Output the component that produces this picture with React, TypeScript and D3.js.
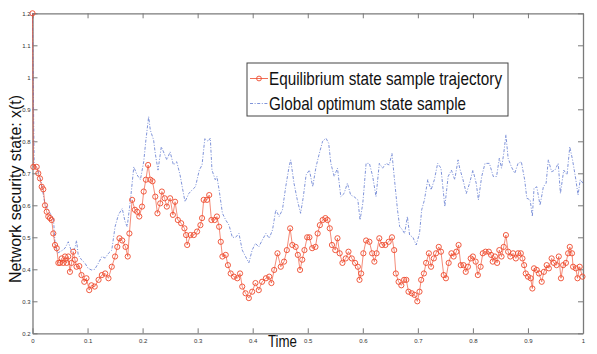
import React, { useRef, useEffect } from 'react';
import * as d3 from 'd3';

// [time, x(t)]
const equilibrium: [number, number][] = [
  [0, 1.2], [0.0015, 0.72], [0.0076, 0.72], [0.0105, 0.70], [0.0136, 0.684], [0.0167, 0.658], [0.0196, 0.65],
  [0.0227, 0.60], [0.0258, 0.58], [0.0287, 0.565], [0.0318, 0.56], [0.0349, 0.554], [0.0378, 0.512], [0.0409, 0.476],
  [0.044, 0.466], [0.047, 0.42], [0.05, 0.42], [0.053, 0.434], [0.056, 0.42], [0.059, 0.44], [0.062, 0.42],
  [0.065, 0.44], [0.068, 0.392], [0.071, 0.42], [0.074, 0.455], [0.077, 0.43], [0.08, 0.408], [0.085, 0.41],
  [0.089, 0.382], [0.094, 0.361], [0.098, 0.372], [0.103, 0.335], [0.107, 0.35], [0.113, 0.346], [0.12, 0.367],
  [0.126, 0.382], [0.132, 0.387], [0.138, 0.372], [0.144, 0.408], [0.15, 0.44], [0.154, 0.47], [0.158, 0.497],
  [0.163, 0.49], [0.169, 0.47], [0.173, 0.44], [0.176, 0.512], [0.181, 0.617], [0.186, 0.586], [0.19, 0.58],
  [0.194, 0.565], [0.199, 0.596], [0.202, 0.643], [0.206, 0.68], [0.21, 0.726], [0.214, 0.68], [0.218, 0.675],
  [0.223, 0.627], [0.227, 0.575], [0.232, 0.606], [0.235, 0.643], [0.24, 0.622], [0.244, 0.596], [0.25, 0.622],
  [0.255, 0.57], [0.259, 0.611], [0.264, 0.554], [0.27, 0.544], [0.276, 0.528], [0.279, 0.507], [0.281, 0.476],
  [0.287, 0.507], [0.293, 0.507], [0.299, 0.518], [0.305, 0.538], [0.308, 0.56], [0.311, 0.617], [0.317, 0.617],
  [0.321, 0.632], [0.325, 0.554], [0.331, 0.554], [0.335, 0.565], [0.339, 0.533], [0.342, 0.486], [0.345, 0.44],
  [0.351, 0.445], [0.355, 0.413], [0.36, 0.387], [0.366, 0.377], [0.372, 0.372], [0.377, 0.387], [0.381, 0.346],
  [0.387, 0.325], [0.393, 0.31], [0.399, 0.33], [0.405, 0.357], [0.411, 0.335], [0.417, 0.361], [0.424, 0.372],
  [0.43, 0.377], [0.434, 0.357], [0.439, 0.398], [0.445, 0.45], [0.451, 0.408], [0.457, 0.424], [0.462, 0.46],
  [0.468, 0.528], [0.472, 0.476], [0.478, 0.47], [0.482, 0.445], [0.486, 0.398], [0.49, 0.43], [0.494, 0.46],
  [0.499, 0.5], [0.503, 0.5], [0.508, 0.466], [0.514, 0.47], [0.518, 0.512], [0.522, 0.538], [0.527, 0.554],
  [0.532, 0.56], [0.536, 0.554], [0.54, 0.528], [0.544, 0.476], [0.55, 0.46], [0.554, 0.497], [0.558, 0.45],
  [0.563, 0.42], [0.569, 0.434], [0.574, 0.455], [0.58, 0.434], [0.586, 0.42], [0.591, 0.408], [0.594, 0.367],
  [0.597, 0.387], [0.601, 0.45], [0.606, 0.49], [0.612, 0.486], [0.617, 0.45], [0.621, 0.424], [0.625, 0.45],
  [0.63, 0.497], [0.635, 0.476], [0.641, 0.476], [0.647, 0.486], [0.653, 0.5], [0.657, 0.46], [0.66, 0.387],
  [0.665, 0.361], [0.67, 0.35], [0.675, 0.367], [0.679, 0.367], [0.683, 0.33], [0.689, 0.325], [0.694, 0.32],
  [0.699, 0.3], [0.703, 0.33], [0.706, 0.367], [0.711, 0.387], [0.715, 0.42], [0.72, 0.45], [0.724, 0.408],
  [0.729, 0.434], [0.733, 0.45], [0.738, 0.47], [0.742, 0.455], [0.747, 0.382], [0.751, 0.372], [0.756, 0.42],
  [0.761, 0.45], [0.765, 0.44], [0.77, 0.455], [0.774, 0.476], [0.778, 0.413], [0.783, 0.413], [0.787, 0.392],
  [0.791, 0.408], [0.796, 0.434], [0.8, 0.44], [0.805, 0.424], [0.809, 0.382], [0.814, 0.408], [0.818, 0.45],
  [0.823, 0.455], [0.829, 0.455], [0.833, 0.445], [0.836, 0.424], [0.84, 0.44], [0.844, 0.42], [0.848, 0.46],
  [0.852, 0.44], [0.856, 0.47], [0.86, 0.507], [0.864, 0.455], [0.868, 0.44], [0.873, 0.45], [0.878, 0.434],
  [0.882, 0.45], [0.887, 0.45], [0.89, 0.434], [0.893, 0.413], [0.896, 0.387], [0.9, 0.377], [0.905, 0.372],
  [0.908, 0.34], [0.911, 0.403], [0.916, 0.398], [0.92, 0.387], [0.925, 0.361], [0.929, 0.392], [0.934, 0.413],
  [0.938, 0.403], [0.943, 0.434], [0.947, 0.42], [0.952, 0.413], [0.956, 0.44], [0.96, 0.372], [0.964, 0.413],
  [0.969, 0.42], [0.973, 0.45], [0.976, 0.47], [0.98, 0.45], [0.982, 0.408], [0.987, 0.403], [0.99, 0.372],
  [0.994, 0.408], [0.999, 0.377],
];

const optimum: [number, number][] = [
  [0, 1.2], [0.003, 0.73], [0.01, 0.71], [0.016, 0.67], [0.022, 0.61], [0.027, 0.59], [0.032, 0.575], [0.038, 0.56],
  [0.041, 0.48], [0.045, 0.45], [0.05, 0.455], [0.055, 0.46], [0.059, 0.466], [0.065, 0.486], [0.071, 0.455],
  [0.077, 0.466], [0.08, 0.49], [0.083, 0.445], [0.089, 0.43], [0.095, 0.42], [0.101, 0.403], [0.107, 0.398],
  [0.113, 0.4], [0.12, 0.42], [0.126, 0.44], [0.132, 0.435], [0.138, 0.45], [0.144, 0.46], [0.15, 0.533],
  [0.156, 0.57], [0.163, 0.59], [0.168, 0.55], [0.172, 0.533], [0.178, 0.617], [0.184, 0.72], [0.19, 0.695],
  [0.196, 0.68], [0.202, 0.736], [0.206, 0.804], [0.211, 0.877], [0.214, 0.835], [0.22, 0.804], [0.223, 0.762],
  [0.228, 0.71], [0.234, 0.783], [0.238, 0.767], [0.244, 0.742], [0.25, 0.767], [0.256, 0.726], [0.262, 0.736],
  [0.268, 0.695], [0.277, 0.611], [0.284, 0.637], [0.29, 0.648], [0.296, 0.658], [0.303, 0.71], [0.308, 0.726],
  [0.313, 0.808], [0.319, 0.8], [0.323, 0.81], [0.326, 0.71], [0.332, 0.68], [0.335, 0.69], [0.339, 0.648],
  [0.345, 0.575], [0.351, 0.554], [0.357, 0.538], [0.363, 0.5], [0.369, 0.5], [0.375, 0.512], [0.381, 0.46],
  [0.387, 0.44], [0.393, 0.42], [0.399, 0.46], [0.405, 0.481], [0.411, 0.47], [0.417, 0.49], [0.424, 0.512],
  [0.43, 0.497], [0.436, 0.523], [0.442, 0.586], [0.448, 0.565], [0.454, 0.586], [0.46, 0.658], [0.466, 0.72],
  [0.469, 0.742], [0.475, 0.669], [0.481, 0.617], [0.487, 0.575], [0.492, 0.627], [0.497, 0.695], [0.503, 0.71],
  [0.509, 0.658], [0.515, 0.72], [0.521, 0.762], [0.527, 0.8], [0.533, 0.81], [0.538, 0.794], [0.542, 0.731],
  [0.548, 0.69], [0.554, 0.716], [0.56, 0.627], [0.566, 0.637], [0.572, 0.669], [0.578, 0.632], [0.584, 0.627],
  [0.591, 0.617], [0.595, 0.554], [0.6, 0.606], [0.606, 0.731], [0.612, 0.731], [0.618, 0.69], [0.624, 0.627],
  [0.63, 0.731], [0.636, 0.716], [0.642, 0.731], [0.648, 0.726], [0.653, 0.762], [0.657, 0.69], [0.663, 0.586],
  [0.667, 0.533], [0.67, 0.528], [0.676, 0.512], [0.681, 0.565], [0.685, 0.507], [0.691, 0.5], [0.697, 0.476],
  [0.703, 0.512], [0.707, 0.586], [0.712, 0.617], [0.718, 0.68], [0.724, 0.648], [0.73, 0.68], [0.736, 0.731],
  [0.742, 0.716], [0.749, 0.596], [0.755, 0.69], [0.761, 0.71], [0.767, 0.68], [0.773, 0.742], [0.776, 0.716],
  [0.782, 0.68], [0.788, 0.637], [0.794, 0.669], [0.8, 0.71], [0.806, 0.669], [0.81, 0.617], [0.816, 0.69],
  [0.822, 0.731], [0.83, 0.731], [0.837, 0.69], [0.843, 0.69], [0.848, 0.747], [0.852, 0.716], [0.856, 0.762],
  [0.86, 0.82], [0.864, 0.747], [0.87, 0.72], [0.876, 0.7], [0.882, 0.731], [0.888, 0.736], [0.894, 0.68],
  [0.898, 0.622], [0.904, 0.617], [0.908, 0.565], [0.911, 0.653], [0.916, 0.658], [0.922, 0.6], [0.928, 0.658],
  [0.933, 0.669], [0.937, 0.742], [0.943, 0.705], [0.949, 0.71], [0.955, 0.731], [0.959, 0.637], [0.965, 0.71],
  [0.971, 0.695], [0.976, 0.783], [0.981, 0.742], [0.987, 0.68], [0.991, 0.632], [0.995, 0.68], [1.0, 0.669],
];

const xTicks = [0, 0.1, 0.2, 0.3, 0.4, 0.5, 0.6, 0.7, 0.8, 0.9, 1];
const yTicks = [0.2, 0.3, 0.4, 0.5, 0.6, 0.7, 0.8, 0.9, 1, 1.1, 1.2];
const legendLabels = ['Equilibrium state sample trajectory', 'Global optimum state sample'];

const RED = '#ee4a2c';
const BLUE = '#5f78cf';
const AXIS = '#7a7a7a';
const FONT = "'Liberation Sans', Arial, sans-serif";

function Chart() {
  const ref = useRef<SVGSVGElement>(null);

  useEffect(() => {
    const width = 597;
    const height = 354;
    const margin = { top: 13.3, right: 14, bottom: 20.7, left: 32.5 };

    const svg = d3.select(ref.current);
    svg.selectAll('*').remove();
    svg.attr('width', width).attr('height', height);

    svg.append('rect').attr('width', width).attr('height', height).attr('fill', '#fff');

    const x = d3.scaleLinear().domain([0, 1]).range([margin.left, width - margin.right]);
    const y = d3.scaleLinear().domain([0.2, 1.2]).range([height - margin.bottom, margin.top]);

    const [x0, x1] = x.range();
    const [y0, y1] = y.range();

    // axes: ticks point inward, mirrored on top/right
    const fmt = (d: number) => (d === 0 || d === 1 ? String(d) : d3.format('.1f')(d));
    const g = svg.append('g');
    g.append('g')
      .attr('transform', `translate(0,${y0})`)
      .call(d3.axisBottom(x).tickValues(xTicks).tickSizeInner(-5).tickSizeOuter(0).tickPadding(5).tickFormat(fmt as any));
    g.append('g')
      .attr('transform', `translate(0,${y1})`)
      .call(d3.axisTop(x).tickValues(xTicks).tickSizeInner(-5).tickSizeOuter(0).tickFormat(() => ''));
    g.append('g')
      .attr('transform', `translate(${x0},0)`)
      .call(d3.axisLeft(y).tickValues(yTicks).tickSizeInner(-5).tickSizeOuter(0).tickPadding(2).tickFormat(fmt as any));
    g.append('g')
      .attr('transform', `translate(${x1},0)`)
      .call(d3.axisRight(y).tickValues(yTicks).tickSizeInner(-5).tickSizeOuter(0).tickFormat(() => ''));
    g.selectAll('.domain').attr('stroke', AXIS).attr('stroke-width', 1.3);
    g.selectAll('.tick line').attr('stroke', AXIS).attr('stroke-width', 1);
    g.selectAll('.tick text').attr('fill', '#333').style('font-size', '6px').style('font-family', FONT);

    // global optimum: dash-dot
    const line = d3.line<[number, number]>().x(d => x(d[0])).y(d => y(d[1]));
    svg.append('path')
      .datum(optimum)
      .attr('d', line)
      .attr('fill', 'none')
      .attr('stroke', BLUE)
      .attr('stroke-width', 0.8)
      .attr('stroke-dasharray', '3,1.6,1,1.6');

    // equilibrium: line with open circles
    svg.append('path')
      .datum(equilibrium)
      .attr('d', line)
      .attr('fill', 'none')
      .attr('stroke', RED)
      .attr('stroke-opacity', 0.8)
      .attr('stroke-width', 0.8);
    svg.append('g')
      .selectAll('circle')
      .data(equilibrium)
      .enter().append('circle')
      .attr('cx', d => x(d[0]))
      .attr('cy', d => y(d[1]))
      .attr('r', 2.6)
      .attr('fill', 'none')
      .attr('stroke', RED)
      .attr('stroke-width', 0.9);

    // axis titles (condensed face in the original, so squeeze to width)
    svg.append('text')
      .attr('x', 268)
      .attr('y', 346.5)
      .attr('textLength', 29)
      .attr('lengthAdjust', 'spacingAndGlyphs')
      .style('font-family', FONT)
      .style('font-size', '17px')
      .attr('fill', '#111')
      .text('Time');
    svg.append('text')
      .attr('transform', 'translate(20.5,283) rotate(-90)')
      .attr('textLength', 188)
      .attr('lengthAdjust', 'spacingAndGlyphs')
      .style('font-family', FONT)
      .style('font-size', '17px')
      .attr('fill', '#111')
      .text('Network security state:  x(t)');

    // legend
    const legend = svg.append('g').attr('transform', 'translate(247,63)');
    legend.append('rect')
      .attr('width', 261)
      .attr('height', 53)
      .attr('fill', '#fff')
      .attr('stroke', '#444')
      .attr('stroke-width', 1);
    const legendWidths = [233, 197];
    legendLabels.forEach((label, i) => {
      const cy = 15.5 + i * 25;
      legend.append('line')
        .attr('x1', 3).attr('x2', 21).attr('y1', cy).attr('y2', cy)
        .attr('stroke', i === 0 ? RED : BLUE)
        .attr('stroke-width', 0.8)
        .attr('stroke-dasharray', i === 0 ? null : '3,1.6,1,1.6');
      if (i === 0) {
        legend.append('circle')
          .attr('cx', 12).attr('cy', cy).attr('r', 2.4)
          .attr('fill', 'none').attr('stroke', RED).attr('stroke-width', 0.9);
      }
      legend.append('text')
        .attr('x', 22)
        .attr('y', 22 + i * 25)
        .attr('textLength', legendWidths[i])
        .attr('lengthAdjust', 'spacingAndGlyphs')
        .style('font-family', FONT)
        .style('font-size', '18.5px')
        .attr('fill', '#111')
        .text(label);
    });
  }, []);

  return <svg ref={ref} style={{ position: 'absolute', left: 0, top: 0 }} />;
}

export default function App() {
  return <Chart />;
}
